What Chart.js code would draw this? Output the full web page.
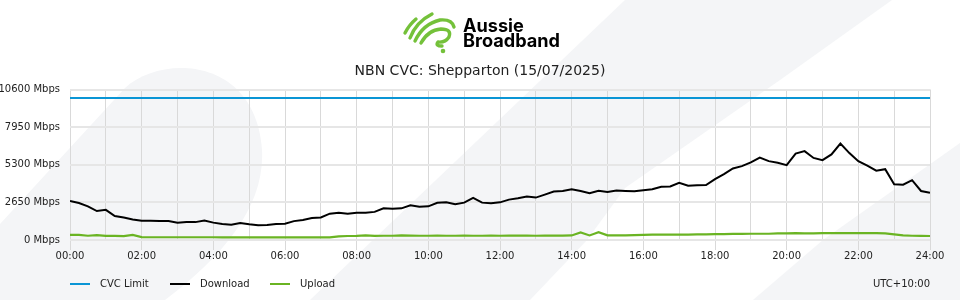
<!DOCTYPE html>
<html>
<head>
<meta charset="utf-8">
<title>NBN CVC: Shepparton</title>
<script src="https://cdn.jsdelivr.net/npm/chart.js@4.4.1/dist/chart.umd.min.js"></script>
<style>
  html, body { margin: 0; padding: 0; background: #fff; }
  #wrap { width: 960px; height: 300px; position: relative; }
</style>
</head>
<body>
<div id="wrap"><canvas id="cvcChart" width="960" height="300"></canvas></div>
<script>
// Data (15 minute samples, 00:00 -> 24:00)
const chartTitle = 'NBN CVC: Shepparton (15/07/2025)';
const tickLabels = ['00:00', '02:00', '04:00', '06:00', '08:00', '10:00', '12:00',
  '14:00', '16:00', '18:00', '20:00', '22:00', '24:00'];
const yTicks = [0, 2650, 5300, 7950, 10600];
const cvcLimit = 10000;
const downloadMbps = [
  2745, 2604, 2370, 2038, 2123, 1684, 1578, 1451, 1359, 1359,
  1330, 1330, 1217, 1274, 1260, 1380, 1224, 1132, 1076, 1203,
  1111, 1040, 1061, 1132, 1146, 1330, 1415, 1543, 1592, 1854,
  1911, 1854, 1911, 1925, 1981, 2229, 2194, 2229, 2441, 2335,
  2370, 2618, 2653, 2519, 2632, 2972, 2632, 2583, 2653, 2845,
  2936, 3064, 2986, 3198, 3418, 3446, 3573, 3453, 3290, 3467,
  3375, 3481, 3453, 3432, 3510, 3573, 3750, 3772, 4033, 3821,
  3856, 3871, 4281, 4635, 5038, 5201, 5463, 5802, 5555, 5434,
  5272, 6085, 6262, 5781, 5625, 6029, 6793, 6121, 5555, 5236,
  4882, 4989, 3927, 3892, 4210, 3453, 3326
];
const uploadMbps = [
  368, 360, 300, 340, 290, 290, 280, 360, 200, 195,
  195, 195, 195, 195, 195, 195, 195, 180, 180, 180,
  180, 180, 180, 180, 180, 180, 180, 180, 180, 180,
  260, 280, 290, 330, 290, 300, 300, 320, 310, 300,
  300, 310, 300, 300, 310, 300, 300, 310, 300, 310,
  310, 310, 300, 310, 310, 310, 320, 530, 320, 550,
  330, 330, 330, 340, 360, 380, 380, 380, 380, 380,
  390, 400, 420, 420, 430, 430, 440, 440, 440, 460,
  470, 480, 470, 470, 480, 490, 480, 490, 480, 480,
  480, 470, 400, 330, 300, 290, 280
];

const stepHours = 24 / (downloadMbps.length - 1);
const toPoints = arr => arr.map((v, i) => ({ x: i * stepHours, y: v }));

const BLUE = '#0a95d5';
const GREEN = '#6ab423';
const FONT = '"DejaVu Sans", Verdana, sans-serif';

// background swooshes, logo, title and legend
const backdrop = {
  id: 'backdrop',
  beforeDraw(chart) {
    const c = chart.ctx;
    c.save();
    c.fillStyle = '#fff';
    c.fillRect(0, 0, chart.width, chart.height);
    c.fillStyle = '#f4f5f7';
    // left leaf
    c.beginPath();
    c.moveTo(-70, 300);
    c.lineTo(125, 88);
    c.bezierCurveTo(160, 55, 255, 55, 262, 150);
    c.bezierCurveTo(265, 205, 225, 255, 165, 300);
    c.closePath();
    c.fill();
    // middle band
    c.beginPath();
    c.moveTo(310, 300);
    c.lineTo(625, 0);
    c.lineTo(892, 0);
    c.lineTo(780, 80);
    c.lineTo(625, 188);
    c.lineTo(587, 240);
    c.lineTo(530, 300);
    c.closePath();
    c.fill();
    // right band
    c.beginPath();
    c.moveTo(753, 300);
    c.lineTo(823, 240);
    c.lineTo(960, 143);
    c.lineTo(960, 300);
    c.closePath();
    c.fill();

    // logo mark
    c.strokeStyle = '#74c13a';
    c.fillStyle = '#74c13a';
    c.lineWidth = 3.4;
    c.lineCap = 'round';
    c.lineJoin = 'round';
    c.beginPath();
    c.moveTo(405, 33); c.quadraticCurveTo(409, 25, 416, 19);
    c.moveTo(410, 38); c.quadraticCurveTo(416, 22, 432, 14);
    c.moveTo(415, 41); c.quadraticCurveTo(423, 24, 440, 20);
    c.quadraticCurveTo(452, 19, 454, 27);
    c.moveTo(421, 43); c.quadraticCurveTo(428, 30, 441, 29);
    c.quadraticCurveTo(452, 29, 449, 37);
    c.quadraticCurveTo(445, 43, 438, 42);
    c.quadraticCurveTo(435, 46, 442, 46);
    c.stroke();
    c.beginPath();
    c.arc(443, 51, 2.3, 0, Math.PI * 2);
    c.fill();

    // logo words, sized to the reference width
    let size = 19;
    c.font = '700 ' + size + 'px Inter, "Open Sans", sans-serif';
    size = size * 97 / c.measureText('Broadband').width;
    c.font = '700 ' + size.toFixed(2) + 'px Inter, "Open Sans", sans-serif';
    c.fillStyle = '#000';
    c.textAlign = 'left';
    c.textBaseline = 'alphabetic';
    c.fillText('Aussie', 463, 32);
    c.fillText('Broadband', 463, 47);

    // title
    c.font = '14px ' + FONT;
    c.fillStyle = '#222';
    c.textAlign = 'center';
    c.textBaseline = 'middle';
    c.fillText(chartTitle, 480, 71);
    c.restore();
  },
  afterDraw(chart) {
    const c = chart.ctx;
    c.save();
    c.font = '10px ' + FONT;
    c.textBaseline = 'middle';
    c.fillStyle = '#222';
    const items = [['CVC Limit', BLUE, 70], ['Download', '#000', 170], ['Upload', GREEN, 270]];
    items.forEach(([label, col, x]) => {
      c.strokeStyle = col;
      c.lineWidth = 2;
      c.beginPath();
      c.moveTo(x, 284);
      c.lineTo(x + 20, 284);
      c.stroke();
      c.fillText(label, x + 30, 284);
    });
    c.textAlign = 'right';
    c.fillText('UTC+10:00', 930, 284);
    c.restore();
  }
};

const ctx = document.getElementById('cvcChart').getContext('2d');
new Chart(ctx, {
  type: 'line',
  data: {
    datasets: [
      {
        label: 'CVC Limit',
        data: [{ x: 0, y: cvcLimit }, { x: 24, y: cvcLimit }],
        borderColor: BLUE,
        borderWidth: 2
      },
      {
        label: 'Download',
        data: toPoints(downloadMbps),
        borderColor: '#000',
        borderWidth: 2
      },
      {
        label: 'Upload',
        data: toPoints(uploadMbps),
        borderColor: GREEN,
        borderWidth: 2.2
      }
    ]
  },
  options: {
    responsive: false,
    animation: false,
    events: [],
    elements: { point: { radius: 0 }, line: { tension: 0 } },
    layout: { padding: { top: 89.5, right: 30, bottom: 38, left: 0 } },
    plugins: {
      legend: { display: false },
      tooltip: { enabled: false },
      title: { display: false }
    },
    scales: {
      x: {
        type: 'linear',
        min: 0,
        max: 24,
        border: { display: false },
        grid: {
          color: '#d9d9d9',
          lineWidth: 1,
          tickLength: 10,
          tickColor: c => (c.tick && c.tick.value % 2 === 0) ? '#d9d9d9' : 'rgba(0,0,0,0)'
        },
        ticks: {
          stepSize: 1,
          autoSkip: false,
          maxRotation: 0,
          padding: 0,
          color: '#222',
          font: { family: FONT, size: 10 },
          callback: v => v % 2 === 0 ? tickLabels[v / 2] : ''
        }
      },
      y: {
        min: yTicks[0],
        max: yTicks[yTicks.length - 1],
        border: { display: false },
        afterFit: s => { s.width = 70; },
        afterBuildTicks: s => { s.ticks = yTicks.map(v => ({ value: v })); },
        grid: { color: '#e6e6e6', lineWidth: 2, drawTicks: false },
        ticks: {
          padding: 10,
          color: '#222',
          font: { family: FONT, size: 10 },
          callback: v => v + ' Mbps'
        }
      }
    }
  },
  plugins: [backdrop]
});
</script>
</body>
</html>
